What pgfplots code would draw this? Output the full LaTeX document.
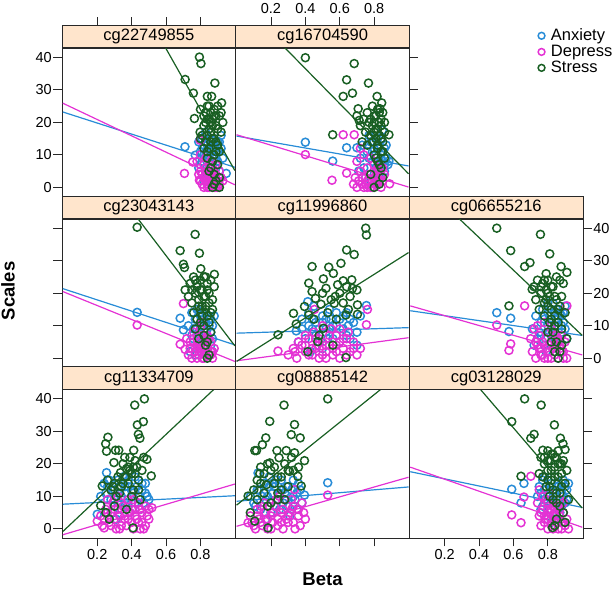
\documentclass[border=0pt]{standalone}
\usepackage{fontspec}
\setmainfont{Liberation Sans}
\usepackage{pgfplots}
\pgfplotsset{compat=1.18}

\definecolor{anxc}{RGB}{40,140,215}
\definecolor{depc}{RGB}{228,50,212}
\definecolor{strc}{RGB}{25,95,35}
\definecolor{stripc}{HTML}{FFE5CC}
\definecolor{framec}{RGB}{40,40,40}

\tikzset{strip/.style={anchor=south, fill=stripc, draw=framec, line width=0.8pt,
  minimum width=173.7pt, minimum height=22.7pt, inner sep=0pt,
  font=\fontsize{16.5}{18}\selectfont}}

\pgfplotsset{
  panel/.style={scale only axis, width=173.7pt, height=148.2pt, anchor=south west,
    xmin=-0.005, xmax=1.005, ymin=-2.8, ymax=42.8, clip mode=individual,
    axis line style={framec, line width=0.8pt},
    tick align=outside, major tick length=8.5pt,
    tick style={framec, line width=0.8pt},
    xtick={0.2,0.4,0.6,0.8}, ytick={0,10,20,30,40},
    xticklabels={0.2,0.4,0.6,0.8}, yticklabels={0,10,20,30,40},
    ticklabel style={font=\fontsize{14.5}{16}\selectfont},
    yticklabel style={inner sep=1.5pt}, xticklabel style={inner sep=3pt}},
  toptick/.style={scale only axis, width=173.7pt, height=1pt, anchor=north west,
    xmin=-0.005, xmax=1.005, ymin=0, ymax=1,
    axis x line*=top, hide y axis, x axis line style={draw=none},
    tick align=outside, major tick length=8.5pt,
    tick style={framec, line width=0.8pt},
    xtick={0.2,0.4,0.6,0.8}, xticklabels={0.2,0.4,0.6,0.8},
    ticklabel style={font=\fontsize{14.5}{16}\selectfont, inner sep=3pt}},
  nolabx/.style={xticklabels={,,,}},
  nolaby/.style={yticklabels={,,,,}},
  legimg/.style={legend image code/.code={\draw[##1, mark size=3.4pt] plot coordinates {(0pt,0pt)};}},
  anx/.style={only marks, mark=o, mark size=4pt, anxc, mark options={line width=1.5pt}, legimg},
  dep/.style={only marks, mark=o, mark size=4pt, depc, mark options={line width=1.5pt}, legimg},
  str/.style={only marks, mark=o, mark size=4pt, strc, mark options={line width=1.5pt}, legimg},
  anxl/.style={no marks, anxc, line width=1.2pt, forget plot},
  depl/.style={no marks, depc, line width=1.2pt, forget plot},
  strl/.style={no marks, strc, line width=1.2pt, forget plot},
}

\begin{document}
\begin{tikzpicture}
\useasboundingbox (0pt,0pt) rectangle (614pt,589pt);

% ---------- row 1 ----------
\begin{axis}[panel, at={(62pt,392.5pt)}, xtick=\empty, ytick pos=left]
\addplot[anx] coordinates {(0.71,12.5) (0.77,9.9) (0.95,4.3) (0.79,14) (0.80,11) (0.81,8) (0.82,13) (0.83,6) (0.84,10) (0.85,15) (0.86,12) (0.87,7) (0.88,9) (0.89,11) (0.90,14) (0.91,5) (0.92,16) (0.83,17) (0.86,3) (0.88,13) (0.79,6) (0.81,12) (0.84,4) (0.87,10) (0.90,8) (0.92,12) (0.85,9) (0.82,2) (0.89,6) (0.93,9)
  (0.80,7) (0.82,10) (0.84,13) (0.86,15) (0.88,5) (0.90,11) (0.85,6) (0.87,13) (0.83,11) (0.91,14) (0.89,9) (0.81,15)};
\addplot[anxl] coordinates {(0,23.2) (1,6.2)};
\addplot[dep] coordinates {(0.707,4.3) (0.755,7.8) (0.798,14.5) (0.794,2.2) (0.78,8) (0.80,5) (0.81,1) (0.82,3) (0.83,6) (0.84,0) (0.85,2) (0.86,4) (0.87,1) (0.88,3) (0.89,0) (0.90,2) (0.91,5) (0.83,9) (0.85,7) (0.87,6) (0.82,0) (0.84,3) (0.86,1) (0.88,0) (0.80,10) (0.91,1) (0.92,3) (0.79,4) (0.89,7) (0.93,2) (0.84,5) (0.86,8)
  (0.81,4) (0.83,2) (0.85,5) (0.87,3) (0.89,4) (0.82,7) (0.84,1) (0.86,6) (0.88,5) (0.90,0) (0.85,0) (0.83,4) (0.87,8) (0.80,2)};
\addplot[depl] coordinates {(0,25.9) (1,0.8)};
\addplot[str] coordinates {(0.794,40.1) (0.803,38.1) (0.711,33.2) (0.759,29) (0.884,32.1) (0.84,28) (0.865,28) (0.765,21.2) (0.798,17) (0.923,26) (0.80,24) (0.82,22) (0.83,20) (0.84,25) (0.85,18) (0.86,23) (0.87,21) (0.88,24) (0.89,19) (0.90,25) (0.91,22) (0.92,23) (0.81,16) (0.83,14) (0.85,12) (0.87,15) (0.88,10) (0.90,13) (0.92,17) (0.84,9) (0.86,6) (0.88,4) (0.89,2) (0.91,0) (0.87,0) (0.82,19) (0.86,17) (0.89,14) (0.91,11) (0.93,20) (0.85,21) (0.80,15) (0.84,11) (0.90,7) (0.88,1)
  (0.83,23) (0.85,25) (0.87,19) (0.89,22) (0.86,20) (0.84,16) (0.88,15) (0.90,18) (0.82,12) (0.86,14) (0.89,11) (0.87,8) (0.85,5) (0.91,3) (0.84,21) (0.88,22)};
\addplot[strl] coordinates {(0,98.9) (1,5.2)};
\node[strip] at (rel axis cs:0.5,1) {cg22749855};
\end{axis}
\begin{axis}[toptick, nolabx, at={(62pt,563.4pt)}]
\end{axis}

\begin{axis}[panel, at={(235.7pt,392.5pt)}, xtick=\empty, ytick pos=right, nolaby,
  legend style={at={(1.740,0.977)}, anchor=west, draw=none, fill=none, inner sep=0pt,
    row sep=1pt, column sep=5pt, font=\fontsize{16.5}{18}\selectfont, nodes={inner sep=1pt}},
  legend cell align=left]
\addplot[anx] coordinates {(0.40,13.9) (0.559,8.1) (0.64,12.2) (0.70,12.2) (0.886,8.1) (0.848,17.6) (0.72,9) (0.74,6) (0.76,11) (0.78,14) (0.79,8) (0.80,4) (0.81,10) (0.82,13) (0.83,7) (0.84,15) (0.85,11) (0.86,5) (0.87,9) (0.75,3) (0.77,16) (0.80,12) (0.82,6) (0.84,9) (0.86,12) (0.71,5) (0.78,2) (0.88,7) (0.83,3) (0.73,13)
  (0.79,11) (0.81,6) (0.83,12) (0.85,8) (0.87,13) (0.77,9) (0.82,15) (0.84,4) (0.80,14) (0.86,7)};
\addlegendentry{Anxiety}
\addplot[anxl] coordinates {(0,15.8) (1,6.6)};
\addplot[dep] coordinates {(0.40,10.1) (0.62,16.2) (0.555,2.2) (0.64,4.4) (0.684,16.2) (0.89,1.1) (0.68,1) (0.69,3) (0.70,0) (0.71,2) (0.72,5) (0.73,1) (0.74,0) (0.75,3) (0.76,6) (0.77,2) (0.78,4) (0.79,0) (0.80,7) (0.81,1) (0.82,3) (0.83,5) (0.84,0) (0.85,2) (0.86,4) (0.70,8) (0.74,10) (0.78,9) (0.72,12) (0.80,1) (0.76,0) (0.82,6)
  (0.75,1) (0.77,4) (0.79,2) (0.81,5) (0.83,2) (0.85,6) (0.73,3) (0.78,0) (0.82,1) (0.84,4) (0.80,3) (0.76,2)};
\addlegendentry{Depress}
\addplot[depl] coordinates {(0,16.2) (1,0.1)};
\addplot[str] coordinates {(0.40,39.9) (0.684,38.1) (0.64,33.1) (0.767,32.1) (0.674,29) (0.62,28) (0.817,28) (0.707,24.2) (0.834,24.2) (0.844,26) (0.713,20.6) (0.559,16.2) (0.886,16.2) (0.70,22) (0.72,19) (0.74,21) (0.75,17) (0.76,23) (0.77,20) (0.78,16) (0.79,14) (0.80,22) (0.81,18) (0.82,12) (0.83,20) (0.84,15) (0.85,23) (0.86,17) (0.80,10) (0.82,8) (0.84,6) (0.78,4) (0.80,0) (0.83,1) (0.85,11) (0.76,13) (0.79,25) (0.81,15) (0.84,19) (0.73,14) (0.86,9) (0.82,24)
  (0.80,20) (0.81,22) (0.82,18) (0.83,16) (0.84,21) (0.85,14) (0.80,17) (0.82,13) (0.84,11) (0.81,9) (0.83,7) (0.85,3) (0.79,19) (0.83,23) (0.78,21) (0.86,20)};
\addlegendentry{Stress}
\addplot[strl] coordinates {(0,58.1) (1,4.2)};
\node[strip] at (rel axis cs:0.5,1) {cg16704590};
\end{axis}
\begin{axis}[toptick, at={(235.7pt,563.4pt)}]
\end{axis}

% ---------- row 2 ----------
\begin{axis}[panel, at={(62pt,221.7pt)}, xtick=\empty, ytick pos=left, nolaby]
\addplot[anx] coordinates {(0.432,14.1) (0.682,12.3) (0.701,8.7) (0.73,10) (0.75,14) (0.76,6) (0.77,12) (0.78,9) (0.79,4) (0.80,13) (0.81,11) (0.82,7) (0.83,14) (0.84,3) (0.85,10) (0.86,12) (0.87,6) (0.88,13) (0.74,2) (0.79,8) (0.84,9) (0.78,15) (0.82,5) (0.86,8) (0.80,3) (0.83,11) (0.75,7) (0.87,2) (0.81,14) (0.77,1)
  (0.80,10) (0.82,12) (0.84,6) (0.86,4) (0.78,12) (0.76,9) (0.85,13) (0.83,8) (0.87,10) (0.81,5)};
\addplot[anxl] coordinates {(0,21.4) (1,4.1)};
\addplot[dep] coordinates {(0.432,10.2) (0.682,4.3) (0.711,2.7) (0.701,16.8) (0.72,6) (0.73,1) (0.74,3) (0.75,0) (0.76,5) (0.77,2) (0.78,7) (0.79,1) (0.80,4) (0.81,0) (0.82,2) (0.83,6) (0.84,3) (0.85,1) (0.86,5) (0.87,0) (0.88,3) (0.76,8) (0.80,9) (0.84,7) (0.78,0) (0.82,4) (0.86,2) (0.74,5) (0.81,11) (0.79,3)
  (0.80,2) (0.82,0) (0.84,5) (0.86,1) (0.78,4) (0.83,3) (0.85,6) (0.81,7) (0.79,5) (0.87,2) (0.77,3) (0.83,1)};
\addplot[depl] coordinates {(0,20.5) (1,-1.0)};
\addplot[str] coordinates {(0.432,40.3) (0.769,38.1) (0.682,33.1) (0.794,32.3) (0.701,28.9) (0.707,27.9) (0.802,27.5) (0.881,25.8) (0.711,21) (0.74,23) (0.76,25) (0.78,22) (0.80,24) (0.82,25) (0.84,23) (0.86,24) (0.73,19) (0.75,17) (0.77,20) (0.79,18) (0.81,21) (0.83,19) (0.85,17) (0.87,18) (0.76,14) (0.78,12) (0.80,15) (0.82,10) (0.84,13) (0.86,8) (0.79,6) (0.83,4) (0.85,1) (0.84,0) (0.81,16) (0.87,15) (0.75,21) (0.88,22) (0.77,9)
  (0.78,23) (0.80,21) (0.82,19) (0.84,21) (0.79,16) (0.81,13) (0.83,16) (0.85,11) (0.86,14) (0.82,7) (0.84,5) (0.80,11) (0.85,20) (0.77,24) (0.83,25)};
\addplot[strl] coordinates {(0,73.2) (1,3.8)};
\node[strip] at (rel axis cs:0.5,1) {cg23043143};
\end{axis}

\begin{axis}[panel, at={(235.7pt,221.7pt)}, xtick=\empty, ytick=\empty]
\addplot[anx] coordinates {(0.414,17.4) (0.755,16.2) (0.347,8.4) (0.38,12) (0.40,6) (0.42,14) (0.44,9) (0.46,11) (0.48,5) (0.50,13) (0.52,8) (0.54,15) (0.56,10) (0.58,7) (0.60,12) (0.62,9) (0.64,14) (0.66,6) (0.68,11) (0.70,8) (0.72,13) (0.45,16) (0.50,3) (0.55,12) (0.60,5) (0.65,10) (0.36,5) (0.48,9) (0.58,14) (0.70,4) (0.43,2) (0.53,6)
  (0.42,10) (0.46,7) (0.50,11) (0.54,9) (0.58,10) (0.62,13) (0.66,12) (0.52,12) (0.56,6) (0.44,12) (0.64,7) (0.38,9)};
\addplot[anxl] coordinates {(0,7.7) (1,9.4)};
\addplot[dep] coordinates {(0.241,2.2) (0.755,10.3) (0.761,15) (0.453,15) (0.30,1) (0.33,3) (0.35,0) (0.38,4) (0.40,2) (0.42,6) (0.44,1) (0.46,3) (0.48,0) (0.50,5) (0.52,2) (0.54,7) (0.56,1) (0.58,4) (0.60,0) (0.62,3) (0.64,6) (0.66,2) (0.68,5) (0.70,1) (0.72,3) (0.45,8) (0.55,9) (0.65,8) (0.40,7) (0.50,10) (0.60,9) (0.36,5) (0.58,2) (0.47,4)
  (0.40,4) (0.44,3) (0.48,6) (0.52,4) (0.56,3) (0.60,5) (0.64,1) (0.46,6) (0.50,1) (0.54,4) (0.58,7) (0.62,6) (0.42,1) (0.68,3) (0.34,2) (0.52,0)};
\addplot[depl] coordinates {(0,-0.8) (1,6.3)};
\addplot[str] coordinates {(0.751,40) (0.755,37.9) (0.64,33.3) (0.684,31.9) (0.439,28.2) (0.607,29.2) (0.536,28) (0.505,24.4) (0.563,26.1) (0.67,24.1) (0.42,23.1) (0.52,21.5) (0.588,22.6) (0.62,23.8) (0.674,21.5) (0.439,20.5) (0.459,18.4) (0.574,19) (0.703,16.4) (0.331,13.8) (0.491,16.6) (0.568,16.9) (0.42,13.3) (0.347,10.5) (0.241,7.2) (0.505,9.2) (0.636,13.3) (0.472,5.1) (0.414,2) (0.636,0.2) (0.703,13.5) (0.395,15.9)
  (0.60,20) (0.64,22) (0.55,18) (0.62,17) (0.58,12) (0.53,14) (0.45,12) (0.50,20) (0.65,15) (0.48,7) (0.56,4) (0.66,19) (0.70,21)};
\addplot[strl] coordinates {(0,-1.0) (1,32.5)};
\node[strip] at (rel axis cs:0.5,1) {cg11996860};
\end{axis}

\begin{axis}[panel, at={(409.4pt,221.7pt)}, xtick=\empty, ytick pos=right]
\addplot[anx] coordinates {(0.503,14) (0.584,12.3) (0.574,8.2) (0.71,9) (0.73,13) (0.74,6) (0.76,11) (0.77,15) (0.78,4) (0.80,10) (0.81,13) (0.82,7) (0.83,17) (0.84,9) (0.85,12) (0.86,5) (0.87,14) (0.88,8) (0.89,11) (0.90,16) (0.91,6) (0.79,2) (0.83,3) (0.86,10) (0.75,8) (0.88,13) (0.72,4) (0.90,9) (0.80,17) (0.84,14)
  (0.78,12) (0.80,14) (0.82,10) (0.84,6) (0.86,13) (0.88,10) (0.76,7) (0.81,8) (0.85,15) (0.89,14)};
\addplot[anxl] coordinates {(0,14.6) (1,7.0)};
\addplot[dep] coordinates {(0.503,10.2) (0.584,4.4) (0.574,2.4) (0.665,16.1) (0.911,16.1) (0.70,6) (0.71,2) (0.72,9) (0.73,0) (0.74,4) (0.75,7) (0.76,1) (0.77,5) (0.78,0) (0.79,3) (0.80,8) (0.81,2) (0.82,0) (0.83,6) (0.84,1) (0.85,4) (0.86,0) (0.87,3) (0.88,7) (0.89,2) (0.90,5) (0.91,0) (0.74,10) (0.78,11) (0.82,9) (0.86,6) (0.76,3)
  (0.75,3) (0.77,1) (0.79,6) (0.81,4) (0.83,3) (0.85,7) (0.87,5) (0.89,0) (0.73,5) (0.80,0) (0.84,4) (0.88,2)};
\addplot[depl] coordinates {(0,16.1) (1,1.0)};
\addplot[str] coordinates {(0.503,40) (0.757,38.1) (0.584,33.1) (0.811,32.1) (0.696,29.4) (0.665,28.2) (0.877,28.2) (0.911,26.4) (0.574,16.1) (0.709,21.2) (0.72,22) (0.74,24) (0.76,20) (0.77,23) (0.78,17) (0.79,21) (0.80,24) (0.81,19) (0.82,15) (0.83,22) (0.84,13) (0.85,18) (0.86,11) (0.87,24) (0.88,9) (0.89,23) (0.90,14) (0.78,13) (0.80,8) (0.82,5) (0.84,2) (0.86,0) (0.88,4) (0.91,6) (0.75,15) (0.73,18) (0.85,25) (0.81,11) (0.87,16) (0.79,26)
  (0.76,22) (0.78,24) (0.80,20) (0.82,22) (0.84,19) (0.80,16) (0.82,12) (0.84,10) (0.86,15) (0.88,19) (0.85,5) (0.87,2) (0.83,8) (0.79,18)};
\addplot[strl] coordinates {(0,57.2) (1,7.0)};
\node[strip] at (rel axis cs:0.5,1) {cg06655216};
\end{axis}

% ---------- row 3 ----------
\begin{axis}[panel, at={(62pt,51pt)}, xtick pos=left, ytick pos=left]
\addplot[anx] coordinates {(0.254,17.3) (0.2,4.5) (0.22,10) (0.24,14) (0.26,7) (0.28,12) (0.30,9) (0.32,15) (0.34,6) (0.36,11) (0.38,13) (0.40,8) (0.42,16) (0.44,10) (0.46,12) (0.48,14) (0.50,9) (0.25,11) (0.29,5) (0.33,13) (0.37,8) (0.41,11) (0.45,6) (0.49,10) (0.27,15) (0.35,16) (0.43,13) (0.47,8) (0.31,3) (0.39,5)
  (0.26,13) (0.30,12) (0.34,10) (0.38,15) (0.42,8) (0.46,14) (0.32,8) (0.40,12) (0.44,15) (0.36,13) (0.28,9) (0.48,11)};
\addplot[anxl] coordinates {(0,7.6) (1,10.2)};
\addplot[dep] coordinates {(0.2,2.4) (0.24,0.3) (0.518,6.5) (0.22,4) (0.23,1) (0.25,6) (0.27,2) (0.29,8) (0.31,0) (0.33,4) (0.35,7) (0.37,1) (0.39,5) (0.41,9) (0.43,3) (0.45,6) (0.47,0) (0.49,4) (0.28,5) (0.32,10) (0.36,3) (0.40,2) (0.44,8) (0.48,7) (0.26,9) (0.34,1) (0.42,6) (0.46,2) (0.30,6) (0.38,9) (0.50,3) (0.41,0)
  (0.24,3) (0.28,1) (0.32,6) (0.36,4) (0.40,6) (0.44,2) (0.48,1) (0.30,3) (0.34,8) (0.38,3) (0.42,4) (0.46,5) (0.26,5) (0.50,6) (0.33,0) (0.45,0)};
\addplot[depl] coordinates {(0,-1.8) (1,13.8)};
\addplot[str] coordinates {(0.474,40) (0.418,38.1) (0.468,33) (0.433,32) (0.439,29.1) (0.448,27.9) (0.262,28.2) (0.249,26.2) (0.254,23.9) (0.306,24.2) (0.325,24.2) (0.412,24.2) (0.489,21.4) (0.514,16.3) (0.297,20.4) (0.37,18.5) (0.229,13.2) (0.22,7.2) (0.408,0.3) (0.335,17.3) (0.26,15) (0.28,12) (0.30,14) (0.33,11) (0.36,16) (0.38,19) (0.40,17) (0.42,21) (0.44,15) (0.46,18) (0.39,22) (0.35,20) (0.31,10) (0.34,13) (0.37,6) (0.41,12) (0.45,9) (0.27,3) (0.43,19) (0.47,22)
  (0.35,14) (0.37,16) (0.39,18) (0.41,19) (0.38,14) (0.42,17) (0.32,16) (0.29,13) (0.44,12) (0.40,10) (0.36,22) (0.30,7) (0.25,5)};
\addplot[strl] coordinates {(0,-0.8) (1,49.0)};
\node[strip] at (rel axis cs:0.5,1) {cg11334709};
\end{axis}

\begin{axis}[panel, at={(235.7pt,51pt)}, xtick pos=left, nolabx, ytick=\empty]
\addplot[anx] coordinates {(0.53,14.2) (0.395,10.4) (0.125,17.2) (0.10,8) (0.12,12) (0.14,6) (0.16,14) (0.18,10) (0.20,5) (0.22,13) (0.24,9) (0.26,15) (0.28,11) (0.30,7) (0.32,12) (0.34,9) (0.36,14) (0.38,8) (0.15,10) (0.19,16) (0.23,7) (0.27,12) (0.31,4) (0.35,11) (0.08,10) (0.21,11) (0.29,9) (0.33,15) (0.17,3) (0.25,6)
  (0.13,12) (0.17,9) (0.21,14) (0.25,11) (0.29,13) (0.33,10) (0.37,12) (0.11,7) (0.19,13) (0.27,8) (0.23,15) (0.35,6)};
\addplot[anxl] coordinates {(0,8.5) (1,12.9)};
\addplot[dep] coordinates {(0.53,10.4) (0.067,1.9) (0.337,12.1) (0.08,4) (0.10,1) (0.12,6) (0.14,2) (0.16,8) (0.18,0) (0.20,4) (0.22,7) (0.24,1) (0.26,5) (0.28,9) (0.30,2) (0.32,6) (0.34,0) (0.36,4) (0.38,8) (0.40,3) (0.13,3) (0.17,5) (0.21,2) (0.25,10) (0.29,3) (0.33,7) (0.37,1) (0.11,0) (0.23,9) (0.31,5) (0.19,7) (0.27,0)
  (0.09,2) (0.12,4) (0.15,1) (0.18,3) (0.21,5) (0.24,3) (0.27,6) (0.30,4) (0.33,2) (0.36,6) (0.39,5) (0.14,7) (0.20,0) (0.26,2) (0.32,9) (0.16,5)};
\addplot[depl] coordinates {(0,0.8) (1,15.9)};
\addplot[str] coordinates {(0.53,40) (0.276,38.1) (0.193,33.1) (0.337,32.1) (0.318,29) (0.37,28) (0.17,28) (0.116,24.1) (0.106,24.1) (0.15,25.9) (0.235,24.1) (0.289,24.1) (0.395,21) (0.337,23.4) (0.247,21.9) (0.193,20.3) (0.135,17) (0.356,16.2) (0.376,13.2) (0.067,10.1) (0.173,13.6) (0.241,9) (0.106,2.4) (0.183,0.3) (0.308,17.7) (0.12,15) (0.14,19) (0.16,11) (0.20,18) (0.22,14) (0.26,16) (0.28,20) (0.30,13) (0.33,18) (0.18,7) (0.08,5) (0.10,12) (0.24,11)
  (0.16,17) (0.18,20) (0.22,19) (0.24,16) (0.26,12) (0.14,14) (0.30,18) (0.32,22) (0.36,19) (0.12,9) (0.20,8) (0.28,9)};
\addplot[strl] coordinates {(0,7.3) (1,49.8)};
\node[strip] at (rel axis cs:0.5,1) {cg08885142};
\end{axis}

\begin{axis}[panel, at={(409.4pt,51pt)}, xtick pos=left, ytick pos=right, nolaby]
\addplot[anx] coordinates {(0.59,12.2) (0.661,14) (0.644,8) (0.74,10) (0.75,13) (0.76,6) (0.77,15) (0.78,9) (0.79,12) (0.80,4) (0.81,11) (0.82,14) (0.83,7) (0.84,16) (0.85,10) (0.86,13) (0.87,5) (0.88,11) (0.89,15) (0.90,8) (0.91,12) (0.92,14) (0.76,11) (0.80,8) (0.84,3) (0.88,7) (0.78,16) (0.86,9) (0.82,2) (0.90,13)
  (0.78,12) (0.80,10) (0.82,8) (0.84,12) (0.86,6) (0.88,14) (0.80,15) (0.77,7) (0.85,13) (0.89,10) (0.83,10) (0.91,9)};
\addplot[anxl] coordinates {(0,17.6) (1,6.6)};
\addplot[dep] coordinates {(0.59,4.3) (0.644,1.9) (0.701,16.2) (0.661,9.8) (0.74,8) (0.75,4) (0.76,1) (0.77,6) (0.78,2) (0.79,9) (0.80,0) (0.81,5) (0.82,3) (0.83,7) (0.84,1) (0.85,4) (0.86,0) (0.87,6) (0.88,2) (0.89,8) (0.90,1) (0.91,3) (0.92,0) (0.77,10) (0.81,11) (0.85,7) (0.79,3) (0.83,0) (0.87,9) (0.75,12) (0.89,5) (0.80,6)
  (0.78,4) (0.80,3) (0.82,1) (0.84,5) (0.86,3) (0.88,0) (0.80,8) (0.83,4) (0.85,2) (0.87,4) (0.89,2) (0.76,5) (0.82,6) (0.86,7)};
\addplot[depl] coordinates {(0,19.0) (1,0.5)};
\addplot[str] coordinates {(0.665,40) (0.761,38.1) (0.59,33) (0.838,32) (0.72,29.1) (0.701,27.9) (0.873,27.9) (0.888,26.2) (0.90,24.4) (0.771,24.2) (0.644,16.2) (0.827,0.4) (0.76,22) (0.78,20) (0.80,24) (0.81,21) (0.82,18) (0.83,23) (0.84,19) (0.85,22) (0.86,16) (0.87,20) (0.88,17) (0.89,21) (0.90,14) (0.91,18) (0.77,16) (0.79,13) (0.81,10) (0.83,12) (0.85,8) (0.87,11) (0.89,5) (0.90,2) (0.84,1) (0.92,9) (0.75,17) (0.86,24) (0.80,15) (0.88,13)
  (0.78,22) (0.80,21) (0.82,23) (0.84,22) (0.82,15) (0.84,16) (0.86,20) (0.80,18) (0.83,9) (0.85,11) (0.87,7) (0.81,13) (0.88,20) (0.85,3)};
\addplot[strl] coordinates {(0,68.1) (1,6.4)};
\node[strip] at (rel axis cs:0.5,1) {cg03128029};
\end{axis}

\node[rotate=90, font=\bfseries\fontsize{18.5}{20}\selectfont] at (8pt,298pt) {Scales};
\node[font=\bfseries\fontsize{18.5}{20}\selectfont] at (322.5pt,10pt) {Beta};
\end{tikzpicture}
\end{document}
